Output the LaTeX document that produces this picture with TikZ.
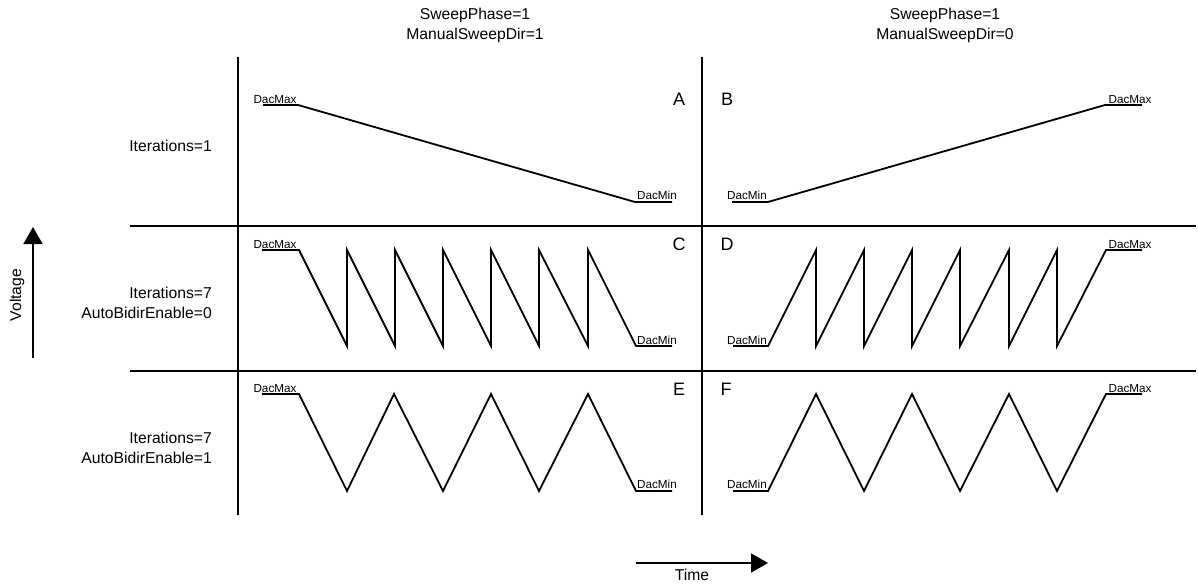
\documentclass[tikz,border=0pt]{standalone}
\usepackage{fontspec}
\setmainfont{Liberation Sans}
\usetikzlibrary{arrows.meta}
\begin{document}
\begin{tikzpicture}[x=1pt,y=-1pt,
  axis/.style={line width=1.8pt},
  wave/.style={line width=1.8pt, line join=miter},
  lvl/.style={font=\fontsize{11.7}{12}\selectfont, inner sep=0pt, anchor=base},
  tag/.style={font=\fontsize{18}{20}\selectfont, inner sep=0pt},
  hdr/.style={font=\fontsize{15.7}{20}\selectfont, align=center, inner sep=0pt},
  rowlbl/.style={font=\fontsize{15.7}{20}\selectfont, align=right, inner sep=0pt, anchor=east},
  bigarrow/.style={line width=1.8pt, -{Triangle[length=17pt,width=19pt]}},
  axlbl/.style={font=\fontsize{15.7}{18}\selectfont, inner sep=0pt}
]
\useasboundingbox (0,0) rectangle (1198,583);

% headers
\node[hdr] (h1) at (475,25) {SweepPhase=1\\ManualSweepDir=1};
\node[hdr] (h2) at (945,25) {SweepPhase=1\\ManualSweepDir=0};

% row labels
\node[rowlbl] (r1) at (212,146) {Iterations=1};
\node[rowlbl] (r2) at (212,303) {Iterations=7\\AutoBidirEnable=0};
\node[rowlbl] (r3) at (212,448) {Iterations=7\\AutoBidirEnable=1};

% grid
\draw[axis] (238,57) -- (238,515);
\draw[axis] (702,57) -- (702,515);
\draw[axis] (130,226) -- (1196,226);
\draw[axis] (130,371) -- (1196,371);

% panel tags
\node[tag] (tA) at (679,99) {A};
\node[tag] (tB) at (727,99) {B};
\node[tag] (tC) at (679,244) {C};
\node[tag] (tD) at (727,244) {D};
\node[tag] (tE) at (679,389) {E};
\node[tag] (tF) at (726,389) {F};

% panel A
\draw[wave] (263,105) -- (298,105) -- (635,202) -- (672,202);
\node[lvl] (amax) at (275,103) {DacMax};
\node[lvl] (amin) at (657,199) {DacMin};

% panel B
\draw[wave] (732,202) -- (768,202) -- (1105,105) -- (1142,105);
\node[lvl] (bmin) at (747,199) {DacMin};
\node[lvl] (bmax) at (1130,103) {DacMax};

% panel C
\draw[wave] (262,250) -- (299,250)
  -- (347,346) -- (347,250)
  -- (395,346) -- (395,250)
  -- (443,346) -- (443,250)
  -- (491,346) -- (491,250)
  -- (539,346) -- (539,250)
  -- (588,346) -- (588,250)
  -- (636,346) -- (672,346);
\node[lvl] (cmax) at (275,248) {DacMax};
\node[lvl] (cmin) at (657,344) {DacMin};

% panel D
\draw[wave] (733,346) -- (768,346)
  -- (816,250) -- (816,346)
  -- (864,250) -- (864,346)
  -- (912,250) -- (912,346)
  -- (960,250) -- (960,346)
  -- (1009,250) -- (1009,346)
  -- (1057,250) -- (1057,346)
  -- (1106,250) -- (1142,250);
\node[lvl] (dmin) at (747,344) {DacMin};
\node[lvl] (dmax) at (1130,248) {DacMax};

% panel E
\draw[wave] (262,394) -- (299,394)
  -- (347,491) -- (394,394)
  -- (443,491) -- (491,394)
  -- (539,491) -- (588,394)
  -- (636,491) -- (672,491);
\node[lvl] (emax) at (275,392) {DacMax};
\node[lvl] (emin) at (657,488) {DacMin};

% panel F
\draw[wave] (733,491) -- (768,491)
  -- (816,394) -- (864,491)
  -- (912,394) -- (960,491)
  -- (1009,394) -- (1057,491)
  -- (1106,394) -- (1142,394);
\node[lvl] (fmin) at (747,488) {DacMin};
\node[lvl] (fmax) at (1130,392) {DacMax};

% axes arrows
\coordinate (v0) at (33,358);
\coordinate (v1) at (33,227);
\draw[bigarrow] (v0) -- (v1);
\node[axlbl, rotate=90] (vl) at (17,295) {Voltage};

\coordinate (t0) at (636,563);
\coordinate (t1) at (768,563);
\draw[bigarrow] (t0) -- (t1);
\node[axlbl] (tl) at (692,575) {Time};
\end{tikzpicture}
\end{document}
